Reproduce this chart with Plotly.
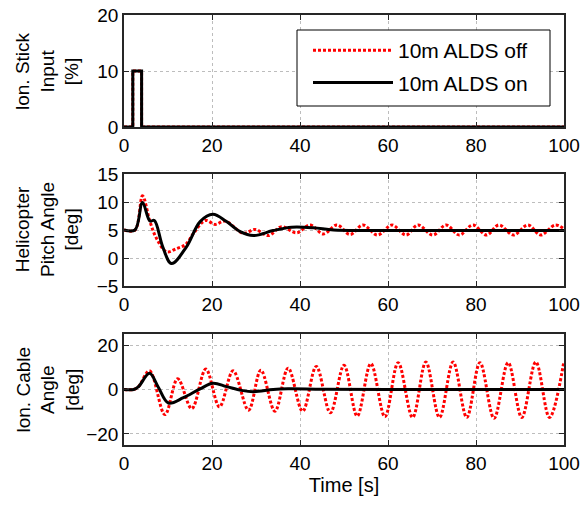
import plotly.graph_objects as go

# ---------------- data ----------------
# Longitudinal stick input [%]
stick_t = [0, 2, 2, 4, 4, 100]
stick_v = [0, 0, 10, 10, 0, 0]

# Helicopter pitch angle [deg]
pitch_off_t = [0, 2.5, 4.2, 5.9, 7.4, 9.7, 12.0, 14.0, 15.8, 18.5, 20.7, 23.0, 27.1, 29.8,
               32.8, 35.8, 39.2, 42.3, 45.3, 48.4, 51.4, 54.3, 57.6, 60.9, 64.1, 66.8,
               70.2, 73.2, 76.2, 79.3, 82.4, 85.2, 88.5, 91.8, 94.7, 98.0, 100]
pitch_off_v = [5, 5, 11.1, 6.5, 3.5, 1.1, 1.7, 2.4, 4.4, 6.7, 6.0, 6.6, 4.4, 5.1,
               4.0, 5.6, 4.5, 5.9, 4.3, 5.9, 4.2, 5.9, 4.1, 5.9, 4.1, 5.9,
               4.1, 5.9, 4.1, 5.9, 4.1, 5.9, 4.1, 5.9, 4.1, 5.9, 5.2]
pitch_on_t = [0, 2.5, 4.2, 5.9, 6.9, 8.8, 10.8, 14.2, 17.3, 20.2, 23.3, 26.4, 29.4,
              33.9, 38.1, 43.0, 47.6, 55, 70, 100]
pitch_on_v = [5, 5, 9.9, 6.6, 6.7, 2.0, -1.0, 2.0, 6.5, 7.8, 6.5, 4.7, 4.0,
              4.9, 5.5, 5.4, 5.0, 4.9, 4.9, 4.9]

# Longitudinal cable angle [deg]
cable_off_t = [0, 2.2, 3.3, 5.8, 9.3, 12.2, 15.4, 18.6, 21.7, 24.8, 28.3, 31.1, 34.3,
               37.3, 40.6, 43.7, 46.9, 50.0, 53.0, 56.1, 59.3, 62.3, 65.6, 68.6, 71.7,
               74.8, 77.9, 80.9, 84.1, 87.3, 90.4, 93.6, 96.7, 99.9]
cable_off_v = [0, 0, 1.3, 8.4, -11.3, 4.8, -8.6, 9.2, -7.8, 8.4, -9.3, 8.7, -9.8,
               9.6, -9.8, 10.4, -10.5, 10.9, -12.0, 11.7, -12.3, 12.1, -12.6, 12.4, -12.6,
               12.4, -12.6, 12.1, -13.0, 12.1, -12.6, 12.4, -12.6, 11.7]
cable_on_t = [0, 2.2, 3.3, 5.8, 7.8, 10.1, 13.5, 17.3, 20.2, 23.3, 26.7, 29.4,
              33.9, 37.3, 45, 60, 100]
cable_on_v = [0, 0, 1.3, 7.3, 1.0, -6.1, -3.7, 0.3, 2.8, 1.3, -0.4, -1.0,
              0.0, 0.3, 0.1, 0.0, 0.0]

x_ticks = [0, 20, 40, 60, 80, 100]
y_ticks = [[0, 10, 20], [-5, 0, 5, 10, 15], [-20, 0, 20]]
y_ranges = [[0, 20], [-5, 15], [-25, 25]]
y_titles = ["lon. Stick<br>Input<br>[%]",
            "Helicopter<br>Pitch Angle<br>[deg]",
            "lon. Cable<br>Angle<br>[deg]"]
series_names = ["10m ALDS off", "10m ALDS on"]

# ---------------- figure ----------------
RED = "#ff0000"
BLACK = "#000000"
FONT = "Liberation Sans, Arial, sans-serif"

W, H = 584, 506
ML, MR, MT, MB = 124, 20, 15, 61
PW, PH = W - ML - MR, H - MT - MB


def px_to_paper_x(px):
    return (px - ML) / PW


def px_to_paper_y(py):
    return (H - MB - py) / PH


fig = go.Figure()

panels = [
    (stick_t, stick_v, stick_t, stick_v, "linear"),
    (pitch_off_t, pitch_off_v, pitch_on_t, pitch_on_v, "spline"),
    (cable_off_t, cable_off_v, cable_on_t, cable_on_v, "spline"),
]

for i, (to, vo, tn, vn, shape) in enumerate(panels):
    ax = "" if i == 0 else str(i + 1)
    fig.add_trace(go.Scatter(
        x=to, y=vo, mode="lines", name=series_names[0],
        line=dict(color=RED, width=3, dash="3px,2px", shape=shape),
        xaxis="x" + ax, yaxis="y" + ax, showlegend=(i == 0),
        legendgroup="off"))
    fig.add_trace(go.Scatter(
        x=tn, y=vn, mode="lines", name=series_names[1],
        line=dict(color=BLACK, width=3, shape=shape),
        xaxis="x" + ax, yaxis="y" + ax, showlegend=(i == 0),
        legendgroup="on"))

# panel rectangles in pixels (top, bottom)
panel_px = [(15, 127), (174, 286), (334, 445)]
y_domains = [[px_to_paper_y(b), px_to_paper_y(t)] for t, b in panel_px]

axis_common = dict(
    showline=True, linecolor="#262626", linewidth=1.5, mirror="ticks",
    ticks="inside", ticklen=5, tickwidth=1, tickcolor="#262626",
    showgrid=True, gridcolor="#bdbdbd", griddash="dot", gridwidth=1,
    zeroline=False, automargin=False,
    tickfont=dict(family=FONT, size=19, color="#000000"),
)

layout_axes = {}
for i in range(3):
    ax = "" if i == 0 else str(i + 1)
    layout_axes["xaxis" + ax] = dict(
        axis_common, domain=[0, 1], range=[0, 100], tickvals=x_ticks,
        anchor="y" + ax)
    layout_axes["yaxis" + ax] = dict(
        axis_common, domain=y_domains[i], range=y_ranges[i],
        tickvals=y_ticks[i], anchor="x" + ax)

layout_axes["xaxis3"]["title"] = dict(
    text="Time [s]", font=dict(family=FONT, size=20, color="#000000"), standoff=4)

annotations = []
for i in range(3):
    annotations.append(dict(
        text=y_titles[i], textangle=-90, xref="paper", yref="paper",
        x=px_to_paper_x(47), y=(y_domains[i][0] + y_domains[i][1]) / 2,
        xanchor="center", yanchor="middle", showarrow=False,
        font=dict(family=FONT, size=19, color="#000000")))

# legend frame (box drawn as a shape, legend itself frameless)
shapes = [dict(
    type="rect", xref="paper", yref="paper",
    x0=px_to_paper_x(297), x1=px_to_paper_x(550),
    y0=px_to_paper_y(106), y1=px_to_paper_y(30),
    line=dict(color="#000000", width=1), fillcolor="white", layer="above")]

fig.update_layout(
    width=W, height=H,
    margin=dict(l=ML, r=MR, t=MT, b=MB),
    paper_bgcolor="white", plot_bgcolor="white",
    font=dict(family=FONT, color="#000000"),
    annotations=annotations,
    shapes=shapes,
    legend=dict(
        x=px_to_paper_x(308), y=px_to_paper_y(30), xanchor="left", yanchor="top",
        bgcolor="rgba(0,0,0,0)", borderwidth=0,
        font=dict(family=FONT, size=21, color="#000000"),
        itemwidth=80, tracegroupgap=2),
    **layout_axes,
)

fig.write_html("out.html")
